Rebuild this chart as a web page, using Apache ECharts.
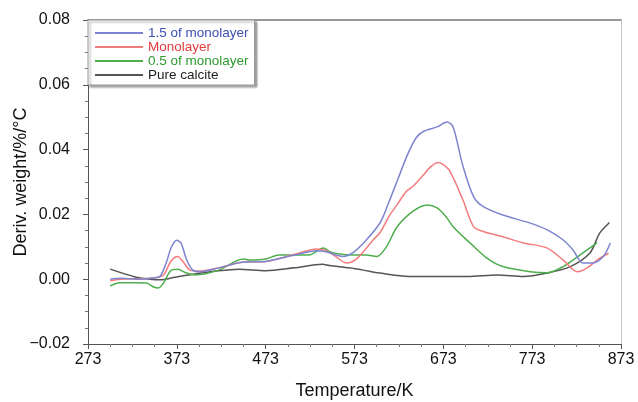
<!DOCTYPE html>
<html>
<head>
<meta charset="utf-8">
<script src="https://cdn.jsdelivr.net/npm/echarts@6/dist/echarts.min.js"></script>
<style>html,body{margin:0;padding:0;background:#fff;}#c{width:638px;height:402px;}</style>
</head>
<body>
<div id="c"></div>
<script>
const seriesNames = ['1.5 of monolayer', 'Monolayer', '0.5 of monolayer', 'Pure calcite'];
const xTicks = [273, 373, 473, 573, 673, 773, 873];
const yTicks = [-0.02, 0.00, 0.02, 0.04, 0.06, 0.08];

const blueT = [298,310,328,347,354,361,367,373,378,384,391,398,420,448,473,495,511,530,541,560,571,586,602,612,622,632,642,650,666,677,684,695,707,718,740,771,790,808,819,830,841,853,861];
const blueV = [0.000,0.0003,0.000,0.0004,0.0008,0.005,0.010,0.012,0.011,0.006,0.0028,0.0023,0.0035,0.0053,0.0055,0.0068,0.0078,0.0088,0.0085,0.007,0.0081,0.012,0.0175,0.024,0.031,0.038,0.0435,0.0455,0.047,0.0485,0.047,0.035,0.0255,0.0224,0.0198,0.0173,0.0152,0.0121,0.009,0.005,0.005,0.007,0.0112];

const redT = [298,309,347,358,366,374,380,388,398,420,448,473,511,530,541,552,564,575,594,602,612,621,631,640,650,658,667,672,680,695,707,718,740,763,790,808,824,835,846,859];
const redV = [-0.0005,0.0,0.0004,0.0013,0.0054,0.007,0.0054,0.0028,0.0025,0.0035,0.0053,0.0055,0.0081,0.0093,0.0088,0.007,0.005,0.0062,0.0121,0.0145,0.0195,0.023,0.027,0.029,0.032,0.0345,0.036,0.0355,0.0335,0.0245,0.0162,0.0147,0.0131,0.0112,0.0096,0.0059,0.0023,0.0035,0.0059,0.008];

const greenT = [298,309,328,339,347,352,358,366,374,383,394,420,448,455,473,488,511,522,538,545,556,571,586,598,609,621,639,655,666,676,684,703,722,740,771,790,808,827,846];
const greenV = [-0.0021,-0.0011,-0.0011,-0.0012,-0.0024,-0.0027,-0.0012,0.0026,0.0031,0.002,0.0013,0.0028,0.0062,0.0059,0.0062,0.0075,0.0075,0.0075,0.0096,0.0085,0.0078,0.0075,0.0075,0.007,0.010,0.0162,0.021,0.0229,0.022,0.0193,0.0162,0.0112,0.0065,0.0039,0.0023,0.002,0.0039,0.0075,0.0112];

const grayT = [298,326,343,354,371,386,420,443,473,505,537,545,567,583,601,639,676,700,734,763,790,816,838,849,860];
const grayV = [0.0031,0.0007,0.0,-0.0002,0.0006,0.0013,0.0026,0.0031,0.0026,0.0035,0.0046,0.0042,0.0035,0.0028,0.0019,0.0008,0.0008,0.0008,0.0013,0.0008,0.0019,0.0039,0.0081,0.0142,0.0175];

const lineColors = ['#7d85d0', '#f27c7c', '#4eae4e', '#555555'];
const textColors = ['#3b4fb0', '#e43c3c', '#2e9a2e', '#222222'];

function pairs(t, v) { return t.map((x, i) => [x, v[i]]); }
const allData = [pairs(blueT, blueV), pairs(redT, redV), pairs(greenT, greenV), pairs(grayT, grayV)];

const chart = echarts.init(document.getElementById('c'), null, {renderer: 'canvas'});
const font = 'Liberation Sans, Arial, sans-serif';

chart.setOption({
  animation: false,
  backgroundColor: '#fff',
  textStyle: {fontFamily: font},
  grid: {left: 88, right: 17, top: 20, bottom: 58, show: false, containLabel: false, outerBoundsMode: 'none'},
  legend: {
    orient: 'vertical', left: 88, top: 20,
    itemWidth: 48, itemHeight: 12, itemGap: 0,
    padding: [6, 6, 3, 6],
    backgroundColor: '#fff', borderColor: '#9a9a9a', borderWidth: 1,
    shadowColor: 'rgba(0,0,0,0.35)', shadowBlur: 2, shadowOffsetX: 2, shadowOffsetY: 2,
    itemStyle: {opacity: 0},
    lineStyle: {width: 2},
    textStyle: {fontSize: 13.5, fontFamily: font, lineHeight: 12},
    data: seriesNames.map((n, i) => ({name: n, textStyle: {color: textColors[i]}}))
  },
  xAxis: [{
    type: 'value', min: xTicks[0], max: xTicks[xTicks.length - 1], interval: 100,
    name: 'Temperature/K', nameLocation: 'middle', nameGap: 38, nameMoveOverlap: false,
    nameTextStyle: {fontSize: 18, color: '#111', fontFamily: font},
    axisLine: {show: true, onZero: false, lineStyle: {color: '#555', width: 1}},
    axisTick: {show: true, length: 5, lineStyle: {color: '#555'}},
    minorTick: {show: true, splitNumber: 4, length: 3, lineStyle: {color: '#777'}},
    axisLabel: {fontSize: 16, color: '#111', margin: 8, fontFamily: font},
    splitLine: {show: false}
  }, {
    type: 'value', position: 'top', min: xTicks[0], max: xTicks[xTicks.length - 1],
    axisLine: {show: true, onZero: false, lineStyle: {color: '#777', width: 1.5}},
    axisTick: {show: false}, axisLabel: {show: false}, splitLine: {show: false}
  }],
  yAxis: [{
    type: 'value', min: yTicks[0], max: yTicks[yTicks.length - 1], interval: 0.02,
    name: 'Deriv. weight/%/°C', nameLocation: 'middle', nameGap: 58, nameMoveOverlap: false,
    nameTextStyle: {fontSize: 18, color: '#111', fontFamily: font},
    axisLine: {show: true, onZero: false, lineStyle: {color: '#555', width: 1}},
    axisTick: {show: true, length: 5, lineStyle: {color: '#555'}},
    minorTick: {show: true, splitNumber: 4, length: 3, lineStyle: {color: '#777'}},
    axisLabel: {fontSize: 16, color: '#111', margin: 18, fontFamily: font,
      formatter: v => v.toFixed(2).replace('-', '\u2212')},
    splitLine: {show: false}
  }, {
    type: 'value', position: 'right', min: yTicks[0], max: yTicks[yTicks.length - 1],
    axisLine: {show: true, onZero: false, lineStyle: {color: '#c8c8c8', width: 1}},
    axisTick: {show: false}, axisLabel: {show: false}, splitLine: {show: false}
  }],
  series: seriesNames.map((n, i) => ({
    name: n, type: 'line', data: allData[i], smooth: 0.3,
    symbol: 'none', showSymbol: false,
    lineStyle: {color: lineColors[i], width: 1.5},
    itemStyle: {color: lineColors[i]},
    z: 4 - i
  }))
});
</script>
</body>
</html>
